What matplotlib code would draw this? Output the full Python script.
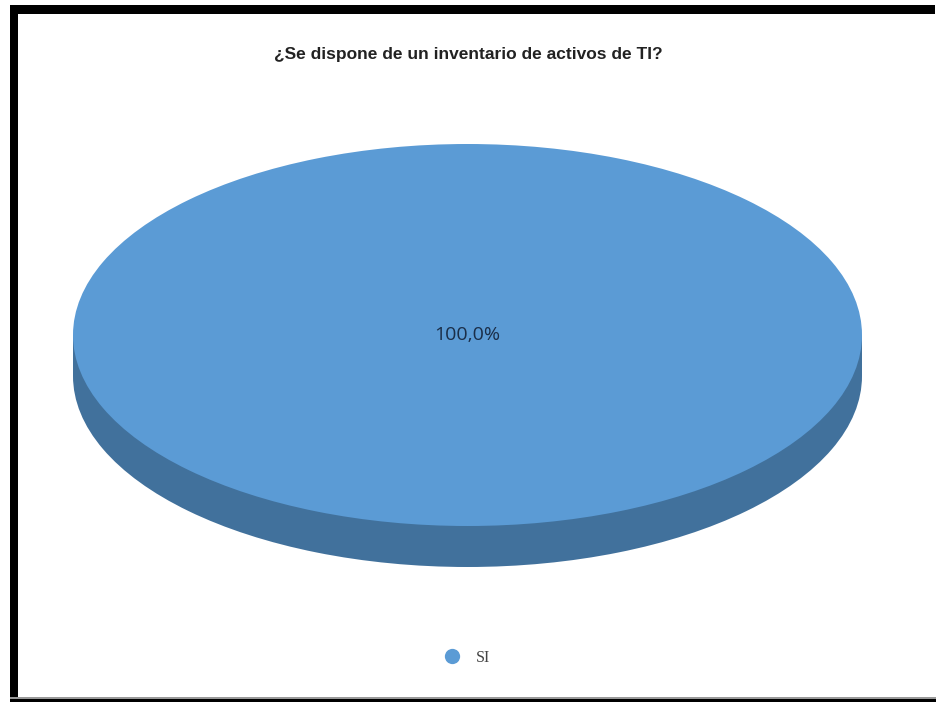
import matplotlib
matplotlib.use("Agg")
from matplotlib import pyplot as plt
from matplotlib.patches import Rectangle
from matplotlib.lines import Line2D

# survey answer counts
categories = ["SI"]
values = [100]
title = "¿Se dispone de un inventario de activos de TI?"

top_color = "#5b9bd5"
side_color = "#41719c"

W, H = 937, 702
fig = plt.figure(figsize=(W / 100, H / 100), dpi=100)
fig.patch.set_facecolor("white")

# pie area, squashed into an ellipse (pixel box of the top face)
x0, x1, y_top, y_bot = 73, 862, 144, 526
depth = 41 / ((y_bot - y_top) / 2)   # thickness in axis units

ax = fig.add_axes([x0 / W, 1 - y_bot / H, (x1 - x0) / W, (y_bot - y_top) / H])
ax.set_xlim(-1, 1)
ax.set_ylim(-1, 1)
ax.axis("off")

# side of the cylinder: shifted copy plus the band joining it to the top
side, _ = ax.pie(values, colors=[side_color], center=(0, -depth), radius=1,
                 frame=True, wedgeprops=dict(linewidth=0, clip_on=False))
for w in side:
    w.set_clip_on(False)
band = Rectangle((-1, -depth), 2, depth, facecolor=side_color, linewidth=0,
                 clip_on=False)
ax.add_patch(band)

wedges, _, autotexts = ax.pie(
    values, colors=[top_color], center=(0, 0), radius=1, frame=True,
    autopct=lambda p: f"{p:.1f}%".replace(".", ","), pctdistance=0,
    wedgeprops=dict(linewidth=0),
    textprops=dict(color="#1b2e48", fontsize=14, family="Open Sans"))
for w in wedges:
    w.set_clip_on(False)
ax.set_xlim(-1, 1)
ax.set_ylim(-1, 1)
ax.set_aspect("auto")
ax.axis("off")

fig.text(468 / W, 1 - 55 / H, title, ha="center", va="center",
         fontsize=12.5, fontweight="bold", family="Liberation Sans",
         color="#222222")

handles = [Line2D([], [], marker="o", linestyle="", markersize=11,
                  markerfacecolor=top_color, markeredgewidth=0)]
fig.legend(handles, categories, loc="center", bbox_to_anchor=(463 / W, 1 - 658 / H),
           frameon=False, handletextpad=0.5,
           prop=dict(family="Liberation Serif", size=11.5))
for t in fig.legends[0].get_texts():
    t.set_color("#444444")

# black frame around the chart
def frame(x, y, w, h, color="black"):
    fig.patches.append(Rectangle((x / W, 1 - (y + h) / H), w / W, h / H,
                                 transform=fig.transFigure, facecolor=color,
                                 linewidth=0, zorder=10))

frame(10, 5, W - 12, 9)
frame(10, 5, 8, H - 5)
frame(10, 697, W - 10, 1.5, "#999999")
frame(10, 698.5, W - 10, 3.5)

fig.savefig("out.png", dpi=100)
